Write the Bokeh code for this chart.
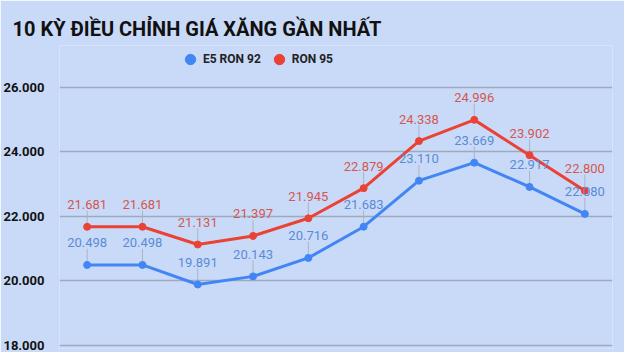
from bokeh.plotting import figure
from bokeh.models import (ColumnDataSource, NumeralTickFormatter, Legend, LegendItem,
                          Range1d, FixedTicker)
from bokeh.core.properties import value
from bokeh.embed import file_html
from bokeh.resources import INLINE

# ---- data (prices in thousand VND) ----
periods = list(range(1, 11))
e5_ron92 = [20.498, 20.498, 19.891, 20.143, 20.716, 21.683, 23.110, 23.669, 22.917, 22.080]
ron95 = [21.681, 21.681, 21.131, 21.397, 21.945, 22.879, 24.338, 24.996, 23.902, 22.800]
y_ticks = [18, 20, 22, 24, 26]
series_names = ["E5 RON 92", "RON 95"]
title_text = "10 KỲ ĐIỀU CHỈNH GIÁ XĂNG GẦN NHẤT"

BG = "#c9daf8"
BLUE = "#4285f4"
RED = "#ea4335"
BLUE_TXT = "#5a8bd6"
RED_TXT = "#d4574f"
FONT = "Roboto"

p = figure(width=624, height=352, output_backend="svg", toolbar_location=None,
           x_range=Range1d(0.5, 10.5), y_range=Range1d(17.907, 27.302),
           background_fill_color=BG, border_fill_color=BG,
           min_border_left=59, min_border_right=12, min_border_top=45,
           min_border_bottom=4)
p.outline_line_color = None

p.title.text = title_text
p.title.text_font = FONT
p.title.text_font_size = "20px"
p.title.text_font_style = "bold"
p.title.text_color = "#111111"
p.title.offset = -47

p.xaxis.visible = False
p.xgrid.visible = False
p.ygrid.grid_line_color = "#9ea9bc"
p.ygrid.grid_line_width = 1.3

ax = p.yaxis[0]
ax.ticker = FixedTicker(ticks=y_ticks)
ax.formatter = NumeralTickFormatter(format="0.000")
ax.axis_line_color = None
ax.major_tick_line_color = None
ax.minor_tick_line_color = None
ax.major_label_text_font = FONT
ax.major_label_text_font_style = "bold"
ax.major_label_text_font_size = "13px"
ax.major_label_text_color = "#111111"
ax.major_label_standoff = 9

src_b = ColumnDataSource(dict(x=periods, y=e5_ron92, top=[v + 0.5 for v in e5_ron92],
                              label=[f"{v:.3f}" for v in e5_ron92]))
src_r = ColumnDataSource(dict(x=periods, y=ron95, top=[v + 0.5 for v in ron95],
                              label=[f"{v:.3f}" for v in ron95]))

# leader lines
p.segment(x0="x", y0="y", x1="x", y1="top", source=src_r, line_color="#aab3c4", line_width=1)
p.segment(x0="x", y0="y", x1="x", y1="top", source=src_b, line_color="#aab3c4", line_width=1)

p.line("x", "y", source=src_r, line_color=RED, line_width=3)
p.line("x", "y", source=src_b, line_color=BLUE, line_width=3)
rr = p.scatter("x", "y", source=src_r, size=7, fill_color=RED, line_color=RED)
rb = p.scatter("x", "y", source=src_b, size=7, fill_color=BLUE, line_color=BLUE)

for src, col in ((src_r, RED_TXT), (src_b, BLUE_TXT)):
    p.text(x="x", y="y", text="label", source=src, y_offset=-22,
           text_align="center", text_baseline="middle",
           text_font=value(FONT), text_font_size="13px", text_color=col)

legend = Legend(items=[LegendItem(label=series_names[0], renderers=[rb]),
                       LegendItem(label=series_names[1], renderers=[rr])],
                orientation="horizontal", location=(118, 276),
                glyph_width=26, glyph_height=26, label_standoff=0, spacing=5,
                label_text_font=FONT, label_text_font_style="bold",
                label_text_font_size="12px", label_text_color="#222222",
                background_fill_alpha=0, border_line_color=None,
                margin=0, padding=0)
p.add_layout(legend)

open("out.html", "w").write(file_html(p, INLINE))
